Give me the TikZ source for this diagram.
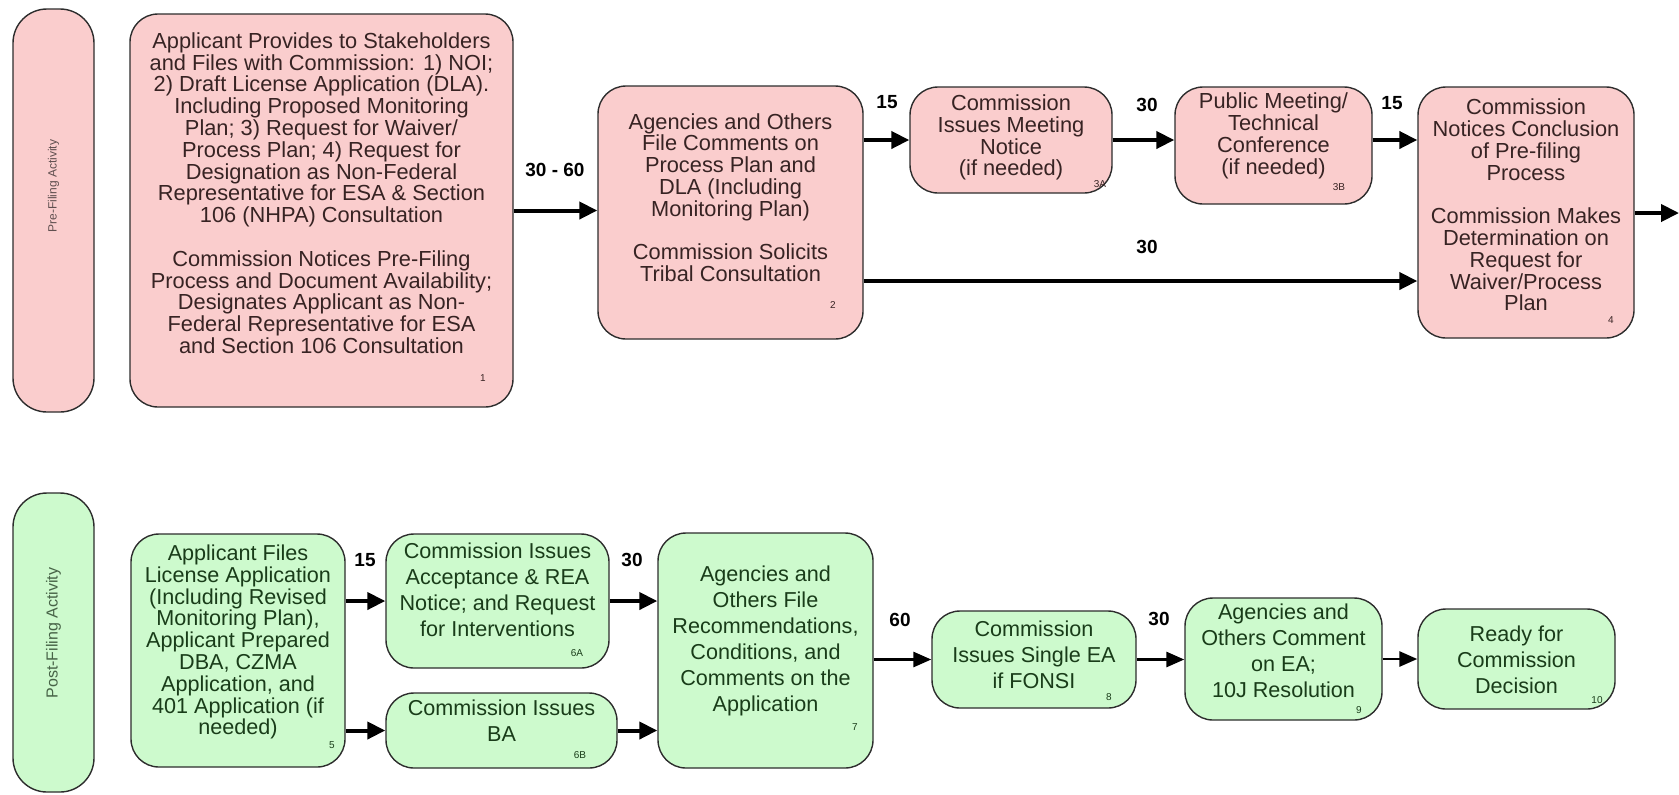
\documentclass[tikz,border=0pt]{standalone}
\usepackage{fontspec}
\setmainfont{Liberation Sans}
\usepackage{tikz}
\usetikzlibrary{calc}
\usetikzlibrary{arrows.meta}
\definecolor{rosefill}{RGB}{250, 205, 205}
\definecolor{mintfill}{RGB}{205, 250, 205}
\definecolor{rosetext}{RGB}{55, 35, 35}
\definecolor{minttext}{RGB}{25, 60, 25}
\definecolor{edgegray}{RGB}{45, 45, 45}

\tikzset{
  stage/.style={draw=edgegray, line width=0.7pt, rounded corners=14pt, inner sep=0pt},
  prebox/.style={stage, fill=rosefill},
  postbox/.style={stage, fill=mintfill},
  lane/.style={draw=edgegray, line width=0.7pt, rounded corners=17pt, inner sep=0pt,
               minimum width=40.5pt},
  lanetxt/.style={rotate=90, inner sep=0pt},
  pretxt/.style={align=center, text=rosetext, inner sep=0pt,
                 font=\fontsize{10.9}{10.9}\selectfont},
  posttxt/.style={align=center, text=minttext, inner sep=0pt,
                  font=\fontsize{10.8}{13}\selectfont},
  tag/.style={inner sep=0pt, font=\fontsize{5}{5}\selectfont},
  days/.style={inner sep=0pt, font=\bfseries\fontsize{9.5}{9.5}\selectfont},
  flow/.style={-{Triangle[length=9pt,width=8.5pt]}, line width=2pt},
  thinflow/.style={-{Triangle[length=9pt,width=7.5pt]}, line width=1.4pt}
}

\begin{document}
\begin{tikzpicture}[x=0.5pt,y=-0.5pt]
  \useasboundingbox (0,0) rectangle (1679,794);

  % pre-filing row
  \node[lane, fill=rosefill, minimum height=201.5pt] (prelane) at (53.5,210.5) {};
  \node[lanetxt, text=rosetext!80, font=\fontsize{6}{6}\selectfont] (prelabel) at (53.5,186) {Pre-Filing Activity};

  \node[prebox, minimum width=191.5pt, minimum height=196.5pt] (b1)  at (321.5,210.5) {};
  \node[prebox, minimum width=132.5pt, minimum height=126.5pt] (b2)  at (730.5,212.5) {};
  \node[prebox, minimum width=101pt,   minimum height=53pt]    (b3a) at (1011,140)    {};
  \node[prebox, minimum width=98.5pt,  minimum height=58.5pt]  (b3b) at (1273.5,145.5) {};
  \node[prebox, minimum width=108pt,   minimum height=125.5pt] (b4)  at (1526,212.5)  {};

  \node[pretxt] (t1) at (321.5,193) {Applicant Provides to Stakeholders\\
    and Files with Commission: 1) NOI;\\
    2) Draft License Application (DLA).\\
    Including Proposed Monitoring\\
    Plan; 3) Request for Waiver/\\
    Process Plan; 4) Request for\\
    Designation as Non-Federal\\
    Representative for ESA \& Section\\
    106 (NHPA) Consultation\\[10.9pt]
    Commission Notices Pre-Filing\\
    Process and Document Availability;\\
    Designates Applicant as Non-\\
    Federal Representative for ESA\\
    and Section 106 Consultation};
  \node[pretxt] (t2) at (730.5,197.5) {Agencies and Others\\File Comments on\\Process Plan and\\
    DLA (Including\\Monitoring Plan)\\[10.9pt]Commission Solicits\\Tribal Consultation};
  \node[pretxt] (t3a) at (1011,137.5) {Commission\\Issues Meeting\\Notice\\(if needed)};
  \node[pretxt] (t3b) at (1273.5,136) {Public Meeting/\\Technical\\Conference\\(if needed)};
  \node[pretxt] (t4) at (1526,205) {Commission\\Notices Conclusion\\of Pre-filing\\Process\\[10.9pt]
    Commission Makes\\Determination on\\Request for\\Waiver/Process\\Plan};

  \node[tag, text=rosetext] (n1)  at (483,378)  {1};
  \node[tag, text=rosetext] (n2)  at (833,305)  {2};
  \node[tag, text=rosetext] (n3a) at (1100,184) {3A};
  \node[tag, text=rosetext] (n3b) at (1339,187) {3B};
  \node[tag, text=rosetext] (n4)  at (1611,320) {4};

  \coordinate (fork) at ($(b2.east)+(0,68.5)$);
  \coordinate (exit) at (1679,213);
  \draw[flow] (b1.east) -- (b1.east -| b2.west);
  \draw[flow] (b3a.west -| b2.east) -- (b3a.west);
  \draw[flow] (b3a.east) -- (b3a.east -| b3b.west);
  \draw[flow] (b3a.east -| b3b.east) -- (b3a.east -| b4.west);
  \draw[flow] (fork) -- (fork -| b4.west);
  \draw[flow] (b4.east |- exit) -- (exit);

  \node[days] (d12)  at (555,170)  {30 - 60};
  \node[days] (d23)  at (887,102)  {15};
  \node[days] (d33)  at (1147,105) {30};
  \node[days] (d34)  at (1392,103) {15};
  \node[days] (d24)  at (1147,247) {30};

  % post-filing row
  \node[lane, fill=mintfill, minimum height=149.5pt] (postlane) at (53.5,642.5) {};
  \node[lanetxt, text=minttext!80, font=\fontsize{8}{8}\selectfont] (postlabel) at (53.5,633) {Post-Filing Activity};

  \node[postbox, minimum width=107pt,   minimum height=116.5pt] (b5)  at (238,650.5)   {};
  \node[postbox, minimum width=111.5pt, minimum height=67pt]    (b6a) at (497.5,601)   {};
  \node[postbox, minimum width=115.5pt, minimum height=37.5pt]  (b6b) at (501.5,730.5) {};
  \node[postbox, minimum width=107.5pt, minimum height=117.5pt] (b7)  at (765.5,650.5) {};
  \node[postbox, minimum width=102pt,   minimum height=48.5pt]  (b8)  at (1034,659.5)  {};
  \node[postbox, minimum width=98.5pt,  minimum height=61pt]    (b9)  at (1283.5,659)  {};
  \node[postbox, minimum width=98.5pt,  minimum height=50pt]    (b10) at (1516.5,659)  {};

  \node[posttxt, font=\fontsize{10.8}{10.9}\selectfont] (t5) at (238,642) {Applicant Files\\
    License Application\\(Including Revised\\Monitoring Plan),\\Applicant Prepared\\
    DBA, CZMA\\Application, and\\401 Application (if\\needed)};
  \node[posttxt] (t6a) at (497.5,590) {Commission Issues\\Acceptance \& REA\\Notice; and Request\\for Interventions};
  \node[posttxt] (t6b) at (501.5,721) {Commission Issues\\BA};
  \node[posttxt] (t7) at (765.5,641) {Agencies and\\Others File\\Recommendations,\\Conditions, and\\
    Comments on the\\Application};
  \node[posttxt] (t8) at (1034,655) {Commission\\Issues Single EA\\if FONSI};
  \node[posttxt] (t9) at (1283.5,651) {Agencies and\\Others Comment\\on EA;\\10J Resolution};
  \node[posttxt] (t10) at (1516.5,660) {Ready for\\Commission\\Decision};

  \node[tag, text=minttext] (n5)  at (332,745)  {5};
  \node[tag, text=minttext] (n6a) at (577,653)  {6A};
  \node[tag, text=minttext] (n6b) at (580,755)  {6B};
  \node[tag, text=minttext] (n7)  at (855,727)  {7};
  \node[tag, text=minttext] (n8)  at (1109,697) {8};
  \node[tag, text=minttext] (n9)  at (1359,710) {9};
  \node[tag, text=minttext] (n10) at (1597,700) {10};

  \draw[flow] (b6a.west -| b5.east) -- (b6a.west);
  \draw[flow] (b6b.west -| b5.east) -- (b6b.west);
  \draw[flow] (b6a.east) -- (b6a.east -| b7.west);
  \draw[flow] (b6b.east) -- (b6b.east -| b7.west);
  \draw[thinflow] (b8.west -| b7.east) -- (b8.west);
  \draw[thinflow] (b8.east) -- (b8.east -| b9.west);
  \draw[thinflow] (b9.east) -- (b9.east -| b10.west);

  \node[days] (d56)  at (365,560)  {15};
  \node[days] (d67)  at (632,560)  {30};
  \node[days] (d78)  at (900,620)  {60};
  \node[days] (d89)  at (1159,619) {30};
\end{tikzpicture}
\end{document}
